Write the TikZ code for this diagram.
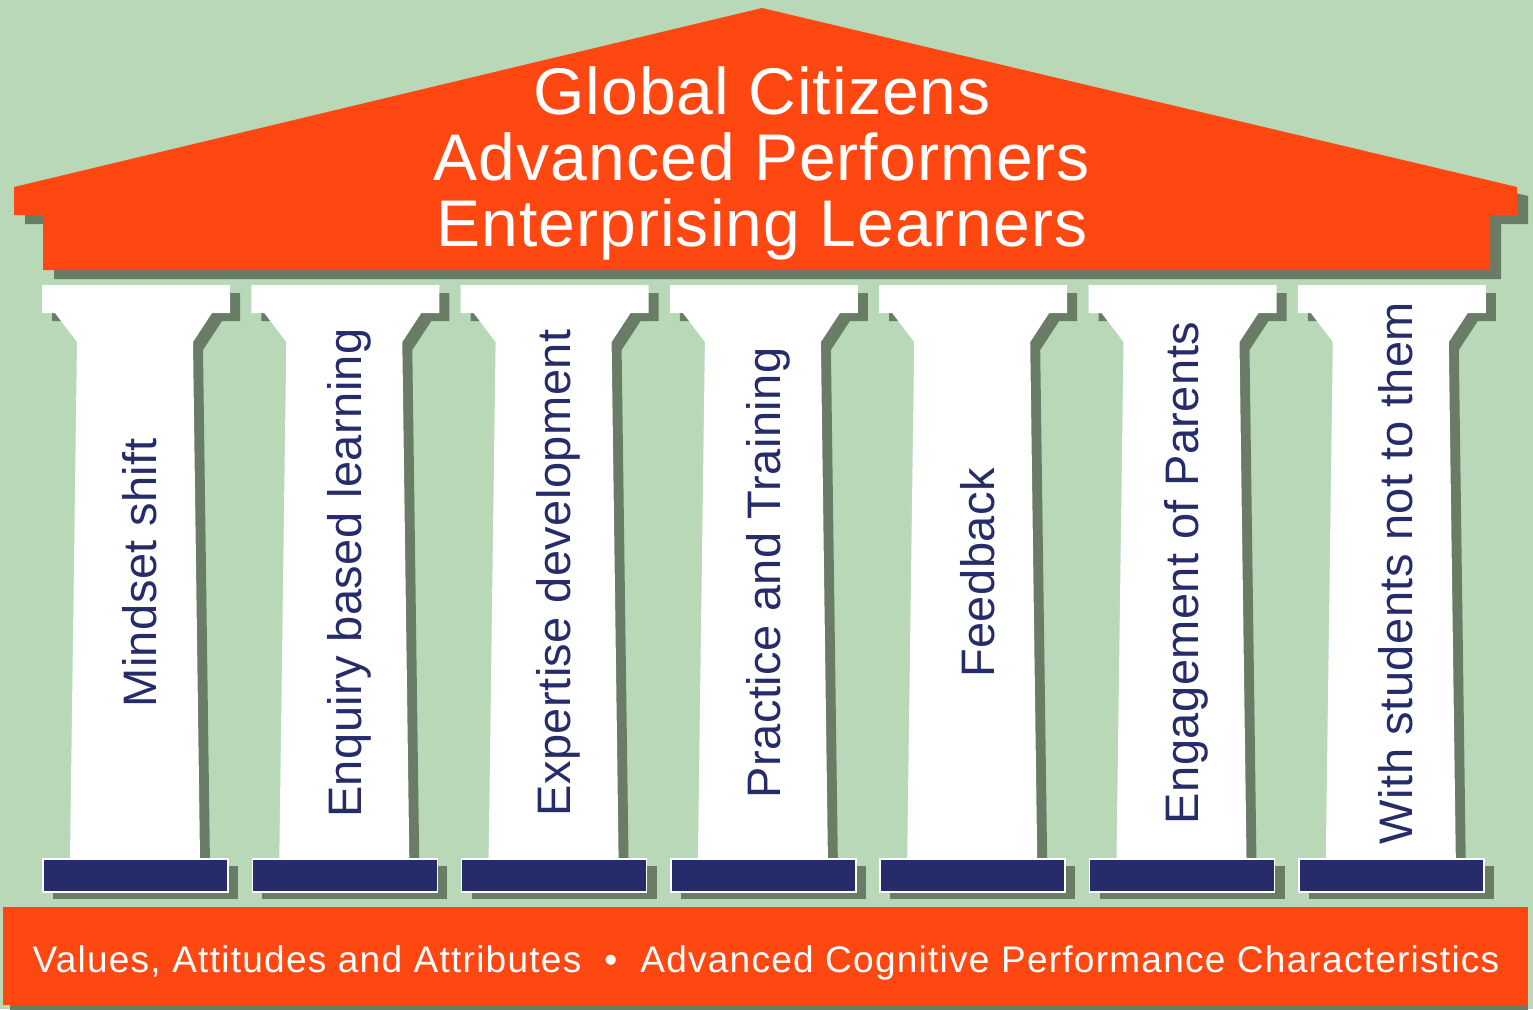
\documentclass[tikz,border=0pt]{standalone}
\usepackage{fontspec}
\setmainfont{Liberation Sans}
\newfontfamily\rooffont[LetterSpace=1.6]{Liberation Sans}
\newfontfamily\colfont[LetterSpace=1.0]{Liberation Sans}
\newfontfamily\footfont[LetterSpace=3.4]{Liberation Sans}
\definecolor{meadow}{RGB}{184,216,184}
\definecolor{brick}{RGB}{255,71,17}
\definecolor{umbra}{RGB}{104,124,102}
\definecolor{ink}{RGB}{38,44,106}
\tikzset{
  roof/.style={fill=brick},
  shadow/.style={fill=umbra},
  column/.style={fill=white},
  plinth/.style={fill=ink, draw=white, line width=1.5pt},
  roofline/.style={text=white, anchor=base, inner sep=0pt,
    font=\rooffont\fontsize{66}{66}\selectfont},
  colname/.style={text=ink, rotate=90, inner sep=0pt,
    font=\colfont\fontsize{47}{47}\selectfont},
  footline/.style={text=white, anchor=base, inner sep=0pt,
    font=\footfont\fontsize{37}{37}\selectfont},
}

\begin{document}
\begin{tikzpicture}[x=1pt, y=-1pt]
  \fill[meadow] (0,0) rectangle (1533,1009);
  \useasboundingbox (0,0) rectangle (1533,1009);
  % roof
  \fill[shadow, shift={(11,9)}] (14,187) -- (762,8) -- (1517,187) -- (1517,215) -- (1490,215) -- (1490,270) -- (43,270) -- (43,215) -- (14,215) -- cycle;
  \fill[roof] (14,187) -- (762,8) -- (1517,187) -- (1517,215) -- (1490,215) -- (1490,270) -- (43,270) -- (43,215) -- (14,215) -- cycle;
  \node[roofline] (citizens)   at (762,114) {Global Citizens};
  \node[roofline] (performers) at (762,180) {Advanced Performers};
  \node[roofline] (learners)   at (762,246) {Enterprising Learners};
  % columns
  \foreach \name [count=\i from 0] in {Mindset shift, Enquiry based learning, Expertise development, Practice and Training, Feedback, Engagement of Parents, With students not to them} {
    \begin{scope}[shift={({42+209.3*\i},0)}]
      \fill[shadow, shift={(10,8)}] (0,285) -- (188,285) -- (188,313) -- (170,313) -- (151,342) -- (158,858) -- (28,858) -- (35,342) -- (13,313) -- (0,313) -- cycle;
      \fill[column] (0,285) -- (188,285) -- (188,313) -- (170,313) -- (151,342) -- (158,858) -- (28,858) -- (35,342) -- (13,313) -- (0,313) -- cycle;
      \node[colname] (col\i) at (98,573) {\name};
      \fill[shadow] (11,866) rectangle (196,899);
      \draw[plinth] (1,859) rectangle (186,892);
    \end{scope}
  }
  % base
  \fill[shadow] (10,913) rectangle (1528,1015);
  \fill[roof] (3,907) rectangle (1528,1005);
  \node[footline] (footer) at (766,972) {Values, Attitudes and Attributes ~•~ Advanced Cognitive Performance Characteristics};
\end{tikzpicture}
\end{document}
